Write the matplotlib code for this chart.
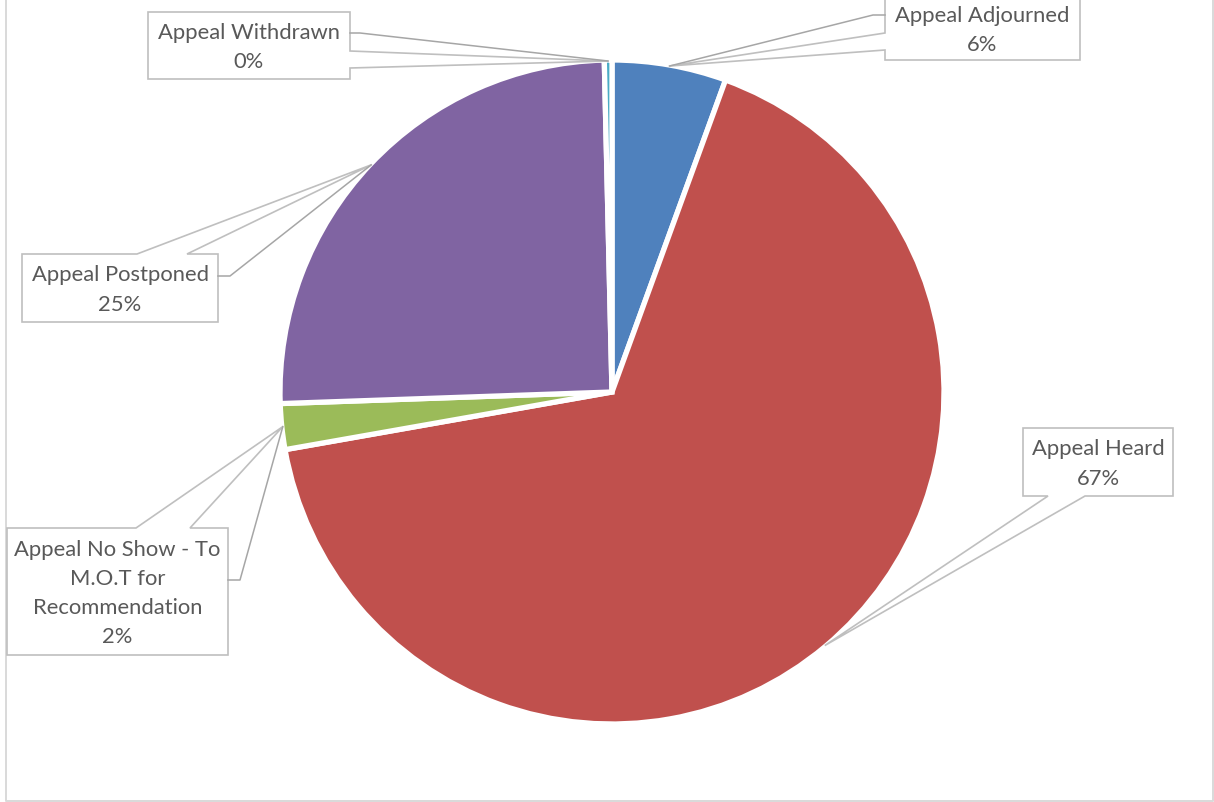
import matplotlib
matplotlib.use('Agg')
import matplotlib.pyplot as plt
from matplotlib.patches import Polygon
import numpy as np

# ---- data ----
categories = ['Appeal Adjourned', 'Appeal Heard',
              'Appeal No Show - To\nM.O.T for\nRecommendation',
              'Appeal Postponed', 'Appeal Withdrawn']
counts = [15, 180, 6, 68, 1]
colors = ['#4F81BD', '#C0504D', '#9BBB59', '#8064A2', '#4BACC6']

# ---- layout (pixel coordinates, y downward) ----
W, H = 1214, 802
layout = [
    dict(box=(885, -3, 1080, 60), edge='left', base=(33, 50), leader=((885, 15), (873, 15))),
    dict(box=(1023, 428, 1173, 496), edge='bottom', base=(1048, 1085), leader=None),
    dict(box=(7, 528, 228, 655), edge='top', base=(136, 190), leader=((228, 580), (240, 580))),
    dict(box=(22, 254, 218, 322), edge='top', base=(137, 187), leader=((218, 276), (230, 276))),
    dict(box=(148, 12, 350, 79), edge='right', base=(51, 68), leader=((350, 33), (360, 33))),
]

TEXT_COLOR = '#595959'
CALLOUT_COLOR = '#BFBFBF'
LEADER_COLOR = '#A6A6A6'
FONT = ['Lato', 'DejaVu Sans']
FS = 15.8
LINE_SP = 29.3
TEXT_DY = 2.0


def P(x, y):
    return (x, H - y)


fig = plt.figure(figsize=(W / 100, H / 100), dpi=100)
ax = fig.add_axes([0, 0, 1, 1])

cx, cy = P(612, 392)
R = 332
wedges, _ = ax.pie(counts, colors=colors, startangle=90, counterclock=False,
                   center=(cx, cy), radius=R, frame=True,
                   wedgeprops=dict(edgecolor='white', linewidth=3.8))
ax.set_xlim(0, W)
ax.set_ylim(0, H)
ax.set_aspect('equal')
ax.axis('off')

total = sum(counts)

for w, cat, c, lay in zip(wedges, categories, counts, layout):
    mid = np.deg2rad((w.theta1 + w.theta2) / 2)
    tip = (cx + (R - 1) * np.cos(mid), cy + (R - 1) * np.sin(mid))
    x0, y0, x1, y1 = lay['box']
    b1, b2 = lay['base']
    TL, TR, BR, BL = P(x0, y0), P(x1, y0), P(x1, y1), P(x0, y1)
    e = lay['edge']
    if e == 'top':
        pts = [TL, P(b1, y0), tip, P(b2, y0), TR, BR, BL]
    elif e == 'right':
        pts = [TL, TR, P(x1, b1), tip, P(x1, b2), BR, BL]
    elif e == 'bottom':
        pts = [TL, TR, BR, P(b2, y1), tip, P(b1, y1), BL]
    else:
        pts = [TL, TR, BR, BL, P(x0, b2), tip, P(x0, b1)]
    poly = Polygon(pts, closed=True, facecolor='white', edgecolor=CALLOUT_COLOR,
                   linewidth=1.2, zorder=5)
    ax.add_patch(poly)
    if lay['leader'] is not None:
        (sx, sy), (tx, ty) = lay['leader']
        xs = [P(sx, sy)[0], P(tx, ty)[0], tip[0]]
        ys = [P(sx, sy)[1], P(tx, ty)[1], tip[1]]
        ax.plot(xs, ys, color=LEADER_COLOR, linewidth=1.1, zorder=6)
    pct = f"{round(100 * c / total)}%"
    lines = cat.split('\n') + [pct]
    xc = (x0 + x1) / 2
    yc = (y0 + y1) / 2
    n = len(lines)
    for k, line in enumerate(lines):
        yy = yc + (k - (n - 1) / 2) * LINE_SP + TEXT_DY
        ax.text(*P(xc, yy), line, ha='center', va='center', fontsize=FS,
                family=FONT, color=TEXT_COLOR, zorder=7)

# chart border
bc = '#D9D9D9'
ax.plot([6, 6, 1213, 1213], [H + 5, H - 801, H - 801, H + 5], color=bc,
        linewidth=1.4, zorder=1, clip_on=False)

fig.savefig('out.png', dpi=100)
